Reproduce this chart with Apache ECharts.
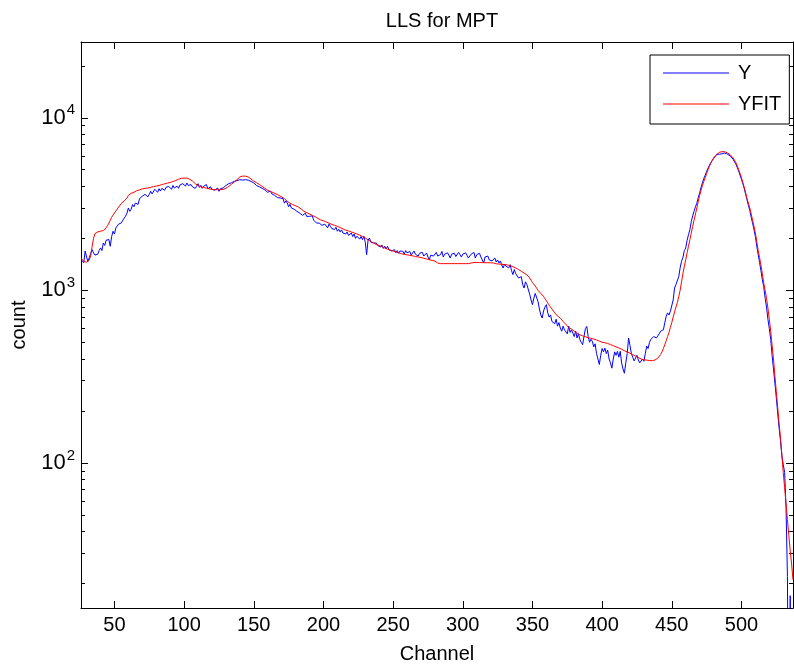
<!DOCTYPE html>
<html><head><meta charset="utf-8">
<script src="https://cdn.jsdelivr.net/npm/echarts@6/dist/echarts.min.js"></script>
<style>html,body{margin:0;padding:0;background:#fff}#c{width:794px;height:670px}</style>
</head><body><div id="c"></div>
<script>
const titleText = 'LLS for MPT';
const xName = 'Channel';
const yName = 'count';
const seriesNames = ['Y', 'YFIT'];
const firstChannel = 26;
const xRange = [26, 537];
const yRange = [14.43, 27480];
const xTicks = [50, 100, 150, 200, 250, 300, 350, 400, 450, 500];
const yMajorTicks = [100, 1000, 10000];
const yMinorTicks = [20, 30, 40, 50, 60, 70, 80, 90, 200, 300, 400, 500, 600, 700, 800, 900,
  2000, 3000, 4000, 5000, 6000, 7000, 8000, 9000, 20000];

// measured counts, channel 26 .. 537
const countY = [
1500,1520,1450,1690,1560,1470,1500,1640,1720,1650,
1600,1570,1620,1700,1760,1700,1880,1820,1950,1900,
1970,1800,2050,2200,2120,2300,2280,2420,2380,2460,
2550,2500,2690,2800,3000,2870,2950,3140,3050,3200,
3280,3150,3400,3350,3510,3420,3600,3670,3480,3600,
3750,3620,3700,3850,3790,3700,3880,3760,3900,3890,
3800,3950,3880,4000,3960,3850,4050,3920,3980,4010,
3900,4080,4000,4150,4100,4020,4190,4050,3950,4100,
3980,4080,3900,4010,4150,3950,4060,3900,4010,3950,
4100,3880,3920,3980,3850,3900,3800,3835,3920,3750,
3880,3950,3920,3980,4050,3980,4150,4100,4200,4150,
4280,4220,4320,4400,4380,4450,4350,4420,4380,4320,
4350,4250,4280,4180,4190,4150,4050,4100,3980,4010,
3900,3950,3820,3850,3700,3800,3760,3620,3700,3550,
3600,3450,3520,3430,3350,3400,3200,3300,3210,3050,
3150,3000,3080,2950,2980,2870,2920,2800,2850,2720,
2750,2800,2680,2750,2685,2620,2700,2550,2600,2455,
2520,2450,2480,2380,2350,2420,2380,2300,2420,2350,
2280,2300,2250,2320,2200,2260,2180,2240,2150,2200,
2120,2180,2080,2100,2150,2050,2120,2000,2060,2100,
1980,2050,1967,2060,1900,1610,1950,2010,1900,1950,
1880,1920,1880,1820,1860,1780,1830,1750,1800,1740,
1800,1720,1760,1690,1683,1720,1650,1700,1640,1690,
1660,1683,1620,1700,1650,1620,1680,1600,1645,1690,
1620,1660,1580,1640,1600,1660,1580,1620,1645,1560,
1506,1600,1640,1580,1620,1660,1580,1600,1610,1680,
1560,1620,1580,1650,1600,1540,1620,1580,1640,1570,
1600,1660,1610,1560,1620,1580,1650,1600,1540,1575,
1620,1580,1660,1540,1610,1580,1640,1560,1500,1440,
1560,1520,1580,1500,1540,1480,1506,1540,1460,1500,
1440,1480,1400,1347,1420,1380,1409,1350,1409,1300,
1233,1320,1250,1280,1180,1153,1200,1080,1031,1120,
1080,1055,950,880,826,900,960,944,860,780,
720,691,760,800,826,740,700,720,660,661,
640,680,620,650,605,580,620,590,605,560,
620,570,590,566,540,580,530,560,520,500,
484,540,600,618,540,500,520,506,470,490,
430,400,372,420,460,440,463,430,450,400,
380,354,400,440,420,443,410,443,380,350,
331,380,430,529,480,430,410,390,405,420,
395,380,388,400,388,430,475,460,500,520,
529,540,553,530,529,560,580,590,591,650,
707,740,720,756,756,880,1031,1080,1100,1200,
1350,1473,1550,1700,1757,1950,2100,2250,2500,2700,
2870,3050,3200,3450,3670,3950,4200,4450,4650,4890,
5100,5300,5500,5650,5800,5950,6120,6200,6150,6250,
6180,6300,6250,6200,6150,6050,6000,5850,5750,5550,
5400,5150,4900,4650,4400,4150,3900,3600,3350,3100,
2900,2650,2450,2250,2050,1800,1620,1450,1300,1150,
1050,900,800,680,600,520,420,350,290,240,
195,160,135,110,98,88,55,22,1,17,
1,1
];

// fitted counts, channel 26 .. 537
const countYFIT = [
1540,1500,1470,1460,1455,1460,1500,1600,1800,2000,
2130,2160,2180,2190,2200,2210,2220,2250,2300,2370,
2450,2550,2650,2730,2800,2880,2950,3040,3120,3190,
3250,3300,3350,3420,3550,3620,3650,3680,3700,3740,
3780,3800,3820,3850,3870,3890,3900,3910,3920,3940,
3950,3970,3990,4010,4020,4030,4050,4070,4100,4120,
4140,4160,4180,4200,4220,4240,4270,4300,4330,4370,
4400,4430,4460,4470,4470,4470,4470,4440,4400,4350,
4300,4230,4150,4100,4050,4010,3980,3960,3940,3920,
3910,3890,3870,3860,3850,3840,3835,3830,3830,3830,
3830,3835,3840,3870,3900,3950,4000,4060,4120,4180,
4250,4310,4380,4460,4540,4570,4590,4590,4590,4570,
4540,4480,4420,4350,4290,4250,4200,4150,4110,4050,
4000,3950,3900,3850,3800,3770,3740,3710,3680,3650,
3620,3590,3550,3510,3480,3440,3400,3340,3280,3240,
3200,3170,3140,3110,3090,3070,3040,3000,2960,2910,
2870,2840,2820,2790,2770,2740,2720,2690,2670,2640,
2610,2580,2560,2540,2530,2510,2490,2470,2450,2430,
2410,2390,2380,2360,2350,2330,2310,2290,2270,2250,
2230,2220,2210,2190,2180,2160,2150,2130,2120,2100,
2090,2070,2050,2030,2010,1980,1960,1940,1920,1900,
1880,1860,1840,1830,1820,1800,1790,1770,1760,1740,
1730,1720,1710,1700,1690,1680,1670,1660,1650,1640,
1630,1620,1615,1610,1605,1600,1595,1590,1585,1578,
1570,1565,1560,1555,1550,1542,1535,1528,1520,1512,
1505,1498,1490,1484,1478,1460,1440,1432,1428,1428,
1428,1428,1428,1428,1428,1428,1428,1428,1428,1428,
1428,1428,1428,1428,1428,1428,1428,1428,1428,1432,
1440,1445,1450,1450,1450,1450,1448,1448,1448,1446,
1446,1445,1445,1444,1444,1442,1440,1435,1425,1420,
1420,1418,1415,1412,1410,1408,1405,1398,1390,1380,
1370,1360,1350,1335,1320,1305,1290,1275,1260,1245,
1230,1205,1180,1145,1110,1085,1060,1030,1000,980,
960,940,920,895,870,845,820,800,780,760,
740,725,710,700,690,675,660,648,635,622,
610,602,595,588,580,572,565,559,553,549,
545,541,538,535,532,530,527,525,522,519,
516,512,508,504,500,499,497,495,492,489,
485,481,478,474,470,467,464,460,455,451,
447,444,440,436,432,428,424,420,416,412,
408,404,400,398,396,395,394,393,392,391,
391,392,395,400,405,413,425,440,460,485,
510,540,570,610,650,700,750,800,850,920,
1000,1120,1250,1380,1500,1650,1800,1970,2150,2350,
2550,2770,3000,3270,3550,3800,4050,4280,4500,4750,
5000,5230,5450,5650,5850,5980,6100,6200,6300,6340,
6360,6370,6360,6310,6250,6180,6100,5980,5850,5680,
5500,5250,5000,4750,4500,4220,3950,3680,3400,3200,
3000,2770,2550,2350,2150,1920,1700,1550,1400,1250,
1100,1000,900,790,680,580,480,400,320,260,
210,170,140,112,88,72,58,47,38,31,
26,21
];

const FONT = 'Liberation Sans, Arial, sans-serif';
const pairs = arr => arr.map((v, i) => [firstChannel + i, v]);
const supLabel = v => {
  const e = Math.round(Math.log10(v));
  return '{b|10}{s|' + e + '}';
};

const baseX = {
  type: 'value', min: xRange[0], max: xRange[1], splitLine: { show: false },
  axisLine: { show: true, onZero: false, lineStyle: { color: '#000', width: 1 } },
  axisTick: { show: true, inside: true, length: 7, lineStyle: { color: '#000' }, customValues: xTicks }
};
const baseY = {
  type: 'log', logBase: 10, min: yRange[0], max: yRange[1], splitLine: { show: false },
  axisLine: { show: true, onZero: false, lineStyle: { color: '#000', width: 1 } }
};

const chart = echarts.init(document.getElementById('c'), null, { renderer: 'canvas' });
chart.setOption({
  animation: false,
  backgroundColor: '#fff',
  title: {
    text: titleText, left: 437, top: 6, textAlign: 'center',
    textStyle: { fontFamily: FONT, fontSize: 20, fontWeight: 'normal', color: '#000' }
  },
  grid: { left: 81, top: 42, right: 1, bottom: 62, containLabel: false },
  legend: {
    data: seriesNames.map(n => ({ name: n, icon: 'rect' })),
    orient: 'vertical', left: 650, top: 55,
    padding: [8, 8, 10, 13], itemWidth: 66, itemHeight: 1.2, itemGap: 11,
    backgroundColor: '#fff', borderColor: '#000', borderWidth: 1, borderRadius: 0,
    textStyle: { fontFamily: FONT, fontSize: 20, color: '#000', padding: [0, 0, 0, 4] }
  },
  xAxis: [
    Object.assign({}, baseX, {
      position: 'bottom', name: xName, nameLocation: 'middle', nameGap: 36,
      nameTextStyle: { fontFamily: FONT, fontSize: 20, color: '#000' },
      axisLabel: { show: true, margin: 7, fontFamily: FONT, fontSize: 20, color: '#000', customValues: xTicks }
    }),
    Object.assign({}, baseX, { position: 'top', axisLabel: { show: false } })
  ],
  yAxis: [
    Object.assign({}, baseY, {
      position: 'left', name: yName, nameLocation: 'middle', nameGap: 52, nameRotate: 90,
      nameTextStyle: { fontFamily: FONT, fontSize: 20, color: '#000' },
      axisTick: { show: true, inside: true, length: 7, lineStyle: { color: '#000' }, customValues: yMajorTicks },
      axisLabel: {
        show: true, margin: 6, customValues: yMajorTicks, formatter: supLabel,
        rich: {
          b: { fontFamily: FONT, fontSize: 22, color: '#000' },
          s: { fontFamily: FONT, fontSize: 15, color: '#000', padding: [0, 0, 15, 1] }
        }
      }
    }),
    Object.assign({}, baseY, {
      position: 'left', axisLine: { show: false }, axisLabel: { show: false },
      axisTick: { show: true, inside: true, length: 4, lineStyle: { color: '#000' }, customValues: yMinorTicks }
    }),
    Object.assign({}, baseY, {
      position: 'right', axisLabel: { show: false },
      axisTick: { show: true, inside: true, length: 7, lineStyle: { color: '#000' }, customValues: yMajorTicks }
    }),
    Object.assign({}, baseY, {
      position: 'right', axisLine: { show: false }, axisLabel: { show: false },
      axisTick: { show: true, inside: true, length: 4, lineStyle: { color: '#000' }, customValues: yMinorTicks }
    })
  ],
  series: [
    {
      name: seriesNames[0], type: 'line', data: pairs(countY), xAxisIndex: 0, yAxisIndex: 0,
      symbol: 'none', showSymbol: false, clip: true,
      lineStyle: { color: '#0000ff', width: 1 }, itemStyle: { color: '#0000ff' }
    },
    {
      name: seriesNames[1], type: 'line', data: pairs(countYFIT), xAxisIndex: 0, yAxisIndex: 0,
      symbol: 'none', showSymbol: false, clip: true,
      lineStyle: { color: '#ff0000', width: 1 }, itemStyle: { color: '#ff0000' }
    }
  ]
});
</script>
</body></html>
